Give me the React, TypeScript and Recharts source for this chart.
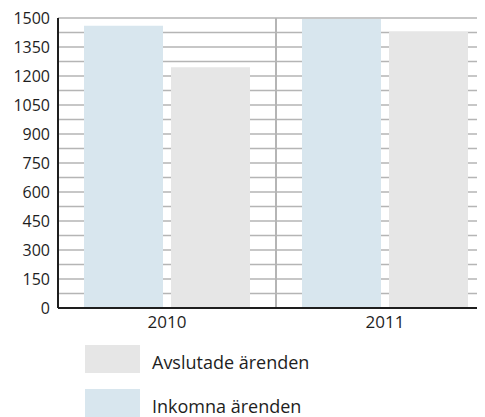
import { Bar, BarChart, CartesianGrid, XAxis, YAxis } from "recharts";

// Ärenden per år — inkomna vs avslutade
const CATEGORIES = ["2010", "2011"];
const INKOMNA = [1460, 1495];
const AVSLUTADE = [1245, 1428];
const Y_TICKS = [0, 75, 150, 225, 300, 375, 450, 525, 600, 675, 750, 825, 900, 975, 1050, 1125, 1200, 1275, 1350, 1425, 1500];
const LABEL_STEP = 150;

const BLUE = "#d8e6ee";
const GREY = "#e6e6e6";
const GRID = "#b5b5b5";
const AXIS = "#1e1e1e";
const FONT = "'Open Sans', sans-serif";

const data = CATEGORIES.map((year, i) => ({
  year,
  inkomna: INKOMNA[i],
  avslutade: AVSLUTADE[i],
}));

const LEGEND = [
  { label: "Avslutade ärenden", color: GREY },
  { label: "Inkomna ärenden", color: BLUE },
];

// vertikala avdelare mellan kategorierna (bandgränser)
function categoryBounds({ xAxis, offset }: any): number[] {
  const scale = xAxis?.scale;
  if (scale && typeof scale === "function") {
    const pts = CATEGORIES.slice(1).map((c) => scale(c)).filter((v: any) => typeof v === "number");
    if (pts.length) return pts;
  }
  return [offset.left + offset.width / 2];
}

export default function App() {
  return (
    <div style={{ position: "relative", width: 477, height: 409, overflow: "hidden", fontFamily: FONT }}>
      <BarChart
        width={486}
        height={330}
        data={data}
        margin={{ top: 10, right: 0, left: 0, bottom: 0 }}
        barSize={79}
        barGap={8}
      >
        <CartesianGrid stroke={GRID} strokeWidth={1.5} vertical={false} />
        <CartesianGrid
          stroke={GRID}
          strokeWidth={2}
          horizontal={false}
          verticalCoordinatesGenerator={categoryBounds}
        />
        <XAxis
          dataKey="year"
          height={30}
          tick={{ fill: AXIS, fontSize: 17, fontFamily: FONT }}
          tickLine={false}
          axisLine={{ stroke: AXIS, strokeWidth: 2 }}
        />
        <YAxis
          width={50}
          domain={[0, 1500]}
          ticks={Y_TICKS}
          interval={0}
          tickFormatter={(v: number) => (v % LABEL_STEP === 0 ? String(v) : "")}
          tick={{ fill: AXIS, fontSize: 16, fontFamily: FONT }}
          tickLine={false}
          axisLine={{ stroke: AXIS, strokeWidth: 2 }}
        />
        <Bar dataKey="inkomna" fill={BLUE} isAnimationActive={false} />
        <Bar dataKey="avslutade" fill={GREY} isAnimationActive={false} />
      </BarChart>
      <div style={{ paddingLeft: 77, paddingTop: 7 }}>
        {LEGEND.map((item) => (
          <div key={item.label} style={{ display: "flex", alignItems: "center", height: 28, marginBottom: 16 }}>
            <span style={{ width: 55, height: 28, background: item.color, display: "inline-block" }} />
            <span style={{ marginLeft: 12, fontSize: 18, color: AXIS, position: "relative", top: 3, lineHeight: "22px" }}>
              {item.label}
            </span>
          </div>
        ))}
      </div>
    </div>
  );
}
